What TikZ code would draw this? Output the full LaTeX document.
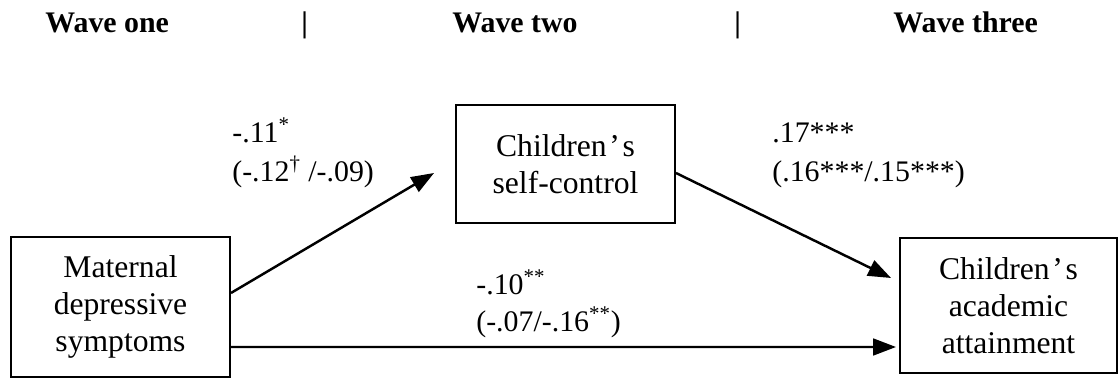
\documentclass[tikz,border=0pt]{standalone}
\usepackage{fontspec}
\setmainfont{Liberation Serif}
\usetikzlibrary{arrows.meta,calc}
\newcommand{\apos}{\kern1.5pt’\kern1.5pt}
\begin{document}
\begin{tikzpicture}[x=0.02cm,y=-0.02cm,
  every node/.style={font=\fontsize{17}{21.5}\selectfont},
  box/.style={draw,line width=1.1pt,align=center,inner sep=0pt,font=\fontsize{18}{21}\selectfont},
  lbl/.style={anchor=base west,inner sep=0pt},
  head/.style={anchor=base west,inner sep=0pt,font=\fontsize{17}{21.5}\selectfont\bfseries},
  arr/.style={line width=1.4pt,-{Triangle[length=13pt,width=9.5pt]}}]
\path[use as bounding box] (0,0) rectangle (1120,378);
% headings
\node[head] (h1) at (45,33) {Wave one};
\node[head] (s1) at (301,33) {|};
\node[head] (h2) at (452,33) {Wave two};
\node[head] (s2) at (734,33) {|};
\node[head] (h3) at (893,33) {Wave three};
% boxes
\node[box,minimum width=219*0.02cm,minimum height=140*0.02cm] (L) at (120.5,307) {Maternal\\depressive\\symptoms};
\node[box,minimum width=219*0.02cm,minimum height=118*0.02cm] (M) at (565.5,164) {Children\apos s\\self-control};
\node[box,minimum width=217*0.02cm,minimum height=135*0.02cm] (R) at (1008.5,305.5) {Children\apos s\\academic\\attainment};
% arrows
\draw[arr] ($(L.east)+(0,-14)$) -- ($(M.west)+(-21,9)$);
\draw[arr] ($(M.east)+(0,9)$) -- ($(R.west)+(-8,-27.5)$);
\draw[arr] ($(L.east)+(0,40)$) -- ($(R.west)+(-3,41.5)$);
% labels
\node[lbl] (a1) at (232,143) {-.11\textsuperscript{*}};
\node[lbl] (a2) at (232,182) {(-.12\textsuperscript{†} /-.09)};
\node[lbl] (b1) at (772,143) {.17***};
\node[lbl] (b2) at (772,182) {(.16***/.15***)};
\node[lbl] (c1) at (476,295) {-.10\textsuperscript{**}};
\node[lbl] (c2) at (476,332) {(-.07/-.16\textsuperscript{**})};
\end{tikzpicture}
\end{document}
